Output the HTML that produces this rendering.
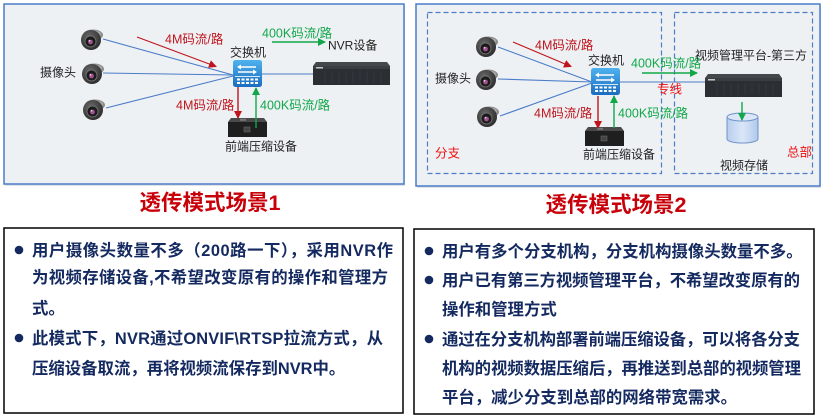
<!DOCTYPE html>
<html><head><meta charset="utf-8">
<style>
html,body{margin:0;padding:0;background:#fff;}
svg{display:block;}
.lb{font-family:"Liberation Sans","Noto Sans CJK SC",sans-serif;font-size:12px;fill:#222;}
.rd{font-family:"Liberation Sans","Noto Sans CJK SC",sans-serif;font-size:12.5px;fill:#c0141c;}
.gr{font-family:"Liberation Sans","Noto Sans CJK SC",sans-serif;font-size:12.5px;fill:#12a84a;}
.br{font-family:"Liberation Sans","Noto Sans CJK SC",sans-serif;font-size:12.5px;fill:#ee1111;}
.tt{font-family:"Liberation Sans","Noto Sans CJK SC",sans-serif;font-size:21.5px;font-weight:bold;fill:#c8000a;}
.bx{font-family:"Liberation Sans","Noto Sans CJK SC",sans-serif;font-size:16.4px;font-weight:bold;fill:#13295f;}
</style></head>
<body>
<svg width="821" height="420" viewBox="0 0 821 420" xmlns="http://www.w3.org/2000/svg">
<defs>
  <linearGradient id="sw" x1="0" y1="0" x2="0" y2="1">
    <stop offset="0" stop-color="#4fb2ee"/><stop offset="1" stop-color="#1a6cc0"/>
  </linearGradient>
  <radialGradient id="dome" cx="0.4" cy="0.35" r="0.7">
    <stop offset="0" stop-color="#6a6a6a"/><stop offset="1" stop-color="#2a2a2a"/>
  </radialGradient>
  <linearGradient id="cyl" x1="0" y1="0" x2="1" y2="0">
    <stop offset="0" stop-color="#b7cdee"/><stop offset="0.5" stop-color="#dbe7f8"/><stop offset="1" stop-color="#b0c8ea"/>
  </linearGradient>
  <marker id="ar" markerWidth="8" markerHeight="8" refX="7" refY="4" orient="auto" markerUnits="userSpaceOnUse">
    <path d="M0,0 L8,4 L0,8 z" fill="#c0141c"/>
  </marker>
  <marker id="ag" markerWidth="8" markerHeight="8" refX="7" refY="4" orient="auto" markerUnits="userSpaceOnUse">
    <path d="M0,0 L8,4 L0,8 z" fill="#12a84a"/>
  </marker>
  <g id="cam">
    <ellipse cx="13" cy="7" rx="10" ry="5.5" fill="#8c8c8c"/>
    <ellipse cx="13" cy="6" rx="8" ry="3.5" fill="#a9a9a9"/>
    <circle cx="11" cy="12" r="10" fill="url(#dome)"/>
    <circle cx="10.5" cy="13.5" r="5.5" fill="#1b1b1b" stroke="#777" stroke-width="0.8"/>
    <circle cx="10.5" cy="14" r="2.4" fill="#a0508f"/>
    <circle cx="9.5" cy="12.8" r="0.9" fill="#e8c8e0"/>
  </g>
  <g id="swi">
    <rect x="0" y="0" width="29" height="27" rx="2.5" fill="url(#sw)"/>
    <path d="M8,7 H23 M5,12 H20" stroke="#fff" stroke-width="1.6"/>
    <path d="M8,4.5 L4,7 L8,9.5 z M20,9.5 L24,12 L20,14.5 z" fill="#fff"/>
    <rect x="2" y="16" width="25" height="0.8" fill="#fff"/>
    <g fill="#fff">
      <rect x="4" y="18.5" width="3" height="2"/><rect x="8.5" y="18.5" width="3" height="2"/><rect x="13" y="18.5" width="3" height="2"/><rect x="17.5" y="18.5" width="3" height="2"/><rect x="22" y="18.5" width="3" height="2"/>
      <rect x="4" y="22" width="3" height="2"/><rect x="8.5" y="22" width="3" height="2"/><rect x="13" y="22" width="3" height="2"/><rect x="17.5" y="22" width="3" height="2"/><rect x="22" y="22" width="3" height="2"/>
    </g>
  </g>
  <g id="cmp">
    <path d="M3,0 H36 L39,4 H0 z" fill="#4a4a4a"/>
    <rect x="0" y="4" width="39" height="15" fill="#1f1f1f"/>
    <rect x="16" y="9" width="6" height="5" fill="#444" stroke="#666" stroke-width="0.6"/>
    <rect x="12" y="0.8" width="6" height="2" fill="#777"/>
  </g>
  <g id="nvr">
    <path d="M3,0 H74 L77,4 H0 z" fill="#44474c"/>
    <rect x="0" y="4" width="77" height="19" fill="#2b2e33"/>
    <rect x="0" y="4" width="77" height="3" fill="#3a3d42"/>
    <rect x="3" y="5" width="7" height="1.5" fill="#c8c8c8"/>
    <g stroke="#363a40" stroke-width="1">
      <path d="M12,9 V21 M19,9 V21 M26,9 V21 M33,9 V21 M40,9 V21 M47,9 V21 M54,9 V21 M61,9 V21 M68,9 V21"/>
    </g>
  </g>
</defs>

<!-- LEFT PANEL -->
<rect x="5" y="6" width="400" height="180" fill="#dfe2e6"/>
<rect x="4" y="4" width="400" height="180" fill="#eef1f4" stroke="#4a7cc8" stroke-width="1.5"/>

<line x1="103" y1="39" x2="233" y2="75" stroke="#4a7cc8" stroke-width="1.1"/>
<line x1="103" y1="73" x2="233" y2="75" stroke="#4a7cc8" stroke-width="1.1"/>
<line x1="106" y1="108" x2="233" y2="76" stroke="#4a7cc8" stroke-width="1.1"/>
<line x1="262" y1="74" x2="313" y2="74" stroke="#4a7cc8" stroke-width="1.1"/>

<use href="#cam" x="80" y="28"/>
<use href="#cam" x="81" y="62"/>
<use href="#cam" x="82" y="98"/>
<use href="#swi" x="233" y="60"/>
<use href="#nvr" x="313" y="62"/>
<use href="#cmp" x="228" y="118"/>

<line x1="137" y1="37" x2="216" y2="66.5" stroke="#c0141c" stroke-width="1.2" marker-end="url(#ar)"/>
<line x1="272" y1="42" x2="325" y2="42" stroke="#12a84a" stroke-width="1.4" marker-end="url(#ag)"/>
<line x1="238" y1="87" x2="238" y2="118" stroke="#c0141c" stroke-width="1.4" marker-end="url(#ar)"/>
<line x1="256" y1="128" x2="256" y2="88" stroke="#12a84a" stroke-width="1.4" marker-end="url(#ag)"/>

<text class="lb" x="40" y="76.5">摄像头</text>
<text class="rd" x="165" y="43.5">4M码流/路</text>
<text class="lb" x="230" y="56.5">交换机</text>
<text class="gr" x="262" y="37.5">400K码流/路</text>
<text class="lb" x="328" y="49.5">NVR设备</text>
<text class="rd" x="176" y="109.5">4M码流/路</text>
<text class="gr" x="260" y="109.5">400K码流/路</text>
<text class="lb" x="225" y="150.5">前端压缩设备</text>

<!-- RIGHT PANEL -->
<rect x="417" y="6" width="404" height="182" fill="#dfe2e6"/>
<rect x="416" y="4" width="404" height="182" fill="#eef1f4" stroke="#4a7cc8" stroke-width="1.5"/>
<rect x="427.5" y="12.5" width="234" height="161" fill="none" stroke="#4a7cc8" stroke-width="1.2" stroke-dasharray="5,3"/>
<rect x="674.5" y="12.5" width="138" height="161" fill="none" stroke="#4a7cc8" stroke-width="1.2" stroke-dasharray="5,3"/>

<line x1="498" y1="47" x2="592" y2="82" stroke="#4a7cc8" stroke-width="1.1"/>
<line x1="498" y1="79" x2="592" y2="82" stroke="#4a7cc8" stroke-width="1.1"/>
<line x1="500" y1="116" x2="592" y2="83" stroke="#4a7cc8" stroke-width="1.1"/>
<line x1="619" y1="82" x2="705" y2="82" stroke="#4a7cc8" stroke-width="1.1"/>

<use href="#cam" x="475" y="35"/>
<use href="#cam" x="475" y="68"/>
<use href="#cam" x="476" y="105"/>
<use href="#swi" x="591" y="68"/>
<use href="#nvr" x="705" y="74"/>
<use href="#cmp" x="585" y="127"/>

<!-- cylinder -->
<path d="M727,117 V139 A15.5,4 0 0 0 758,139 V117" fill="url(#cyl)" stroke="#6f93c9" stroke-width="1"/>
<ellipse cx="742.5" cy="117" rx="15.5" ry="4" fill="#dbe7f8" stroke="#6f93c9" stroke-width="1"/>

<line x1="513" y1="42" x2="571" y2="66.5" stroke="#c0141c" stroke-width="1.2" marker-end="url(#ar)"/>
<line x1="642" y1="73" x2="697" y2="73" stroke="#12a84a" stroke-width="1.4" marker-end="url(#ag)"/>
<line x1="598" y1="96" x2="598" y2="128" stroke="#c0141c" stroke-width="1.4" marker-end="url(#ar)"/>
<line x1="614" y1="128" x2="614" y2="96" stroke="#12a84a" stroke-width="1.4" marker-end="url(#ag)"/>
<line x1="742" y1="102" x2="742" y2="120" stroke="#12a84a" stroke-width="1.4" marker-end="url(#ag)"/>

<text class="lb" x="435" y="82.5">摄像头</text>
<text class="rd" x="535" y="49.5">4M码流/路</text>
<text class="lb" x="588" y="64.5">交换机</text>
<text class="gr" x="631" y="67.5">400K码流/路</text>
<text class="lb" x="695" y="59.5">视频管理平台-第三方</text>
<text class="br" x="657" y="93.5">专线</text>
<text class="rd" x="534" y="117.5">4M码流/路</text>
<text class="gr" x="618" y="117.5">400K码流/路</text>
<text class="lb" x="583" y="158.5">前端压缩设备</text>
<text class="br" x="435" y="157.5">分支</text>
<text class="br" x="787" y="156.5">总部</text>
<text class="lb" x="720" y="169.5">视频存储</text>

<!-- TITLES -->
<text class="tt" x="210" y="210" text-anchor="middle">透传模式场景1</text>
<text class="tt" x="616" y="212" text-anchor="middle">透传模式场景2</text>

<!-- LEFT TEXT BOX -->
<rect x="4" y="228" width="399" height="185" fill="#fff" stroke="#000" stroke-width="1.5"/>
<circle cx="19" cy="250" r="4.3" fill="#13295f"/>
<circle cx="19" cy="338" r="4.3" fill="#13295f"/>
<text class="bx" x="32" y="256" textLength="361" lengthAdjust="spacing">用户摄像头数量不多（200路一下），采用NVR作</text>
<text class="bx" x="32" y="283" textLength="356" lengthAdjust="spacing">为视频存储设备,不希望改变原有的操作和管理方</text>
<text class="bx" x="32" y="314">式。</text>
<text class="bx" x="32" y="344" textLength="351" lengthAdjust="spacing">此模式下，NVR通过ONVIF\RTSP拉流方式，从</text>
<text class="bx" x="32" y="374">压缩设备取流，再将视频流保存到NVR中。</text>

<!-- RIGHT TEXT BOX -->
<rect x="414" y="229" width="400" height="185" fill="#fff" stroke="#000" stroke-width="1.5"/>
<circle cx="429" cy="251" r="4.3" fill="#13295f"/>
<circle cx="429" cy="280" r="4.3" fill="#13295f"/>
<circle cx="429" cy="339" r="4.3" fill="#13295f"/>
<text class="bx" x="442" y="257">用户有多个分支机构，分支机构摄像头数量不多。</text>
<text class="bx" x="442" y="286" textLength="358" lengthAdjust="spacing">用户已有第三方视频管理平台，不希望改变原有的</text>
<text class="bx" x="442" y="315">操作和管理方式</text>
<text class="bx" x="442" y="345" textLength="358" lengthAdjust="spacing">通过在分支机构部署前端压缩设备，可以将各分支</text>
<text class="bx" x="442" y="374" textLength="359" lengthAdjust="spacing">机构的视频数据压缩后，再推送到总部的视频管理</text>
<text class="bx" x="442" y="403">平台，减少分支到总部的网络带宽需求。</text>
</svg>
</body></html>
